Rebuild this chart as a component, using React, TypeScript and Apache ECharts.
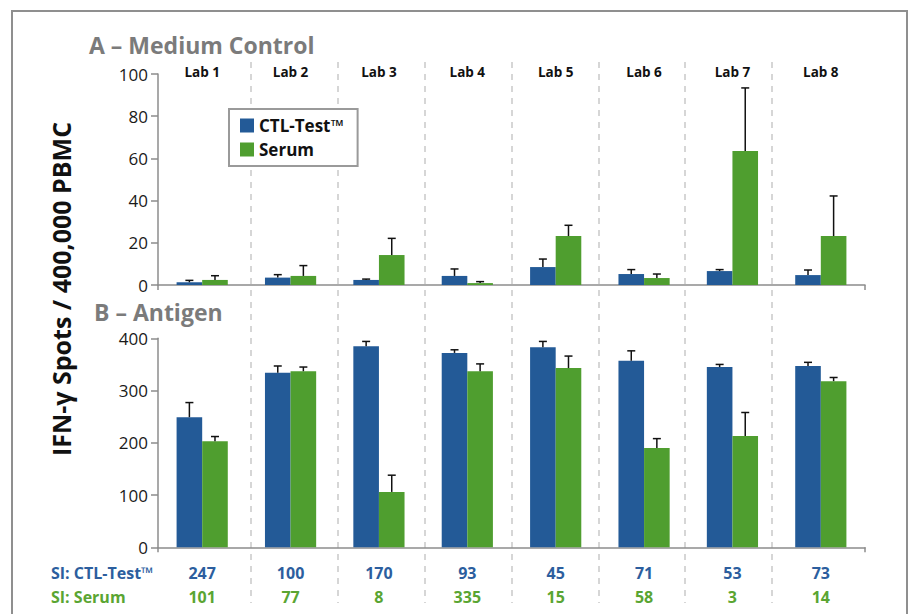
import React, { useEffect, useRef } from "react";
import * as echarts from "echarts";

const labs = ["Lab 1", "Lab 2", "Lab 3", "Lab 4", "Lab 5", "Lab 6", "Lab 7", "Lab 8"];

// A – Medium Control (mean, upper SD)
const ctlMedium = [1.3, 3.5, 2.4, 4.3, 8.5, 5.2, 6.6, 4.7];
const ctlMediumSd = [0.9, 1.4, 0.4, 3.3, 3.8, 2.1, 0.7, 2.4];
const serumMedium = [2.4, 4.3, 14.2, 0.9, 23.2, 3.3, 63.5, 23.2];
const serumMediumSd = [2.0, 4.9, 7.9, 0.7, 5.1, 1.9, 29.9, 19.0];

// B – Antigen (mean, upper SD)
const ctlAntigen = [249, 334, 385, 372, 383, 357, 345, 347];
const ctlAntigenSd = [28, 13, 9, 6, 11, 19, 5, 7];
const serumAntigen = [203, 337, 106, 337, 343, 190, 213, 318];
const serumAntigenSd = [9, 8, 32, 14, 23, 18, 45, 7];

// Stimulation indices
const siCtl = ["247", "100", "170", "93", "45", "71", "53", "73"];
const siSerum = ["101", "77", "8", "335", "15", "58", "3", "14"];

const BLUE = "#235a97";
const GREEN = "#4f9e2f";
const SI_BLUE = "#2c5e9e";
const SI_GREEN = "#5aa532";
const AXIS = "#8c8c8c";
const FONT = "'Open Sans', 'Noto Sans', sans-serif";
const BAR_W = 25.6;

function errRenderer(sign: number) {
  return (params: any, api: any) => {
    const x = api.value(0);
    const v = api.value(1);
    const sd = api.value(2);
    const base = api.coord([x, v]);
    const top = api.coord([x, v + sd]);
    const cx = base[0] + (sign * BAR_W) / 2;
    const st = { stroke: "#111", lineWidth: 1.5 };
    return {
      type: "group",
      children: [
        { type: "line", shape: { x1: cx, y1: base[1], x2: cx, y2: top[1] }, style: st },
        { type: "line", shape: { x1: cx - 4, y1: top[1], x2: cx + 4, y2: top[1] }, style: st },
      ],
    };
  };
}

export default function App() {
  const ref = useRef<HTMLDivElement>(null);
  useEffect(() => {
    if (!ref.current) return;
    const chart = echarts.init(ref.current, undefined, { renderer: "svg" });

    const barSeries = (name: string, data: number[], color: string, idx: number) => ({
      type: "bar",
      name,
      xAxisIndex: idx,
      yAxisIndex: idx,
      data,
      barWidth: BAR_W,
      barGap: "0%",
      itemStyle: { color },
      z: 2,
    });
    const errSeries = (vals: number[], sds: number[], sign: number, idx: number) => ({
      type: "custom",
      xAxisIndex: idx,
      yAxisIndex: idx,
      data: vals.map((v, i) => [i, v, sds[i]]),
      renderItem: errRenderer(sign),
      z: 5,
      silent: true,
    });

    const xBase = (idx: number) => ({
      type: "category",
      gridIndex: idx,
      data: labs,
      axisLine: { show: true, lineStyle: { color: AXIS, width: 1.5 } },
      axisTick: {
        show: true,
        length: 5,
        interval: (i: number) => i === 0,
        lineStyle: { color: AXIS, width: 1.5 },
      },
      splitLine: { show: false },
    });

    const yBase = (idx: number, max: number, interval: number) => ({
      type: "value",
      gridIndex: idx,
      min: 0,
      max,
      interval,
      axisLine: { show: true, lineStyle: { color: AXIS, width: 1.5 } },
      axisTick: { show: true, length: 7, lineStyle: { color: AXIS, width: 1.5 } },
      axisLabel: { color: "#1a1a1a", fontSize: 17, fontFamily: FONT, margin: 10 },
      splitLine: { show: false },
    });

    chart.setOption({
      animation: false,
      textStyle: { fontFamily: FONT },
      grid: [
        { left: 158, width: 707, top: 74, height: 211 },
        { left: 158, width: 707, top: 338.3, height: 209 },
        { left: 164.2, width: 694.7, top: 62, height: 541 },
        { left: 158, width: 707, top: 62, height: 541 },
      ],
      xAxis: [
        { ...xBase(0), axisLabel: { show: false } },
        {
          ...xBase(1),
          axisLabel: {
            show: true,
            margin: 14,
            formatter: (_v: string, i: number) => `{a|${siCtl[i]}}\n{b|${siSerum[i]}}`,
            rich: {
              a: { color: SI_BLUE, fontSize: 16, fontWeight: "bold", lineHeight: 24, fontFamily: FONT },
              b: { color: SI_GREEN, fontSize: 16, fontWeight: "bold", lineHeight: 24, fontFamily: FONT },
            },
          },
        },
        {
          type: "category",
          gridIndex: 2,
          data: labs,
          axisLine: { show: false },
          axisTick: { show: false },
          axisLabel: { show: false },
          splitLine: {
            show: true,
            showMinLine: false,
            showMaxLine: false,
            lineStyle: { color: "#c9c9c9", width: 1.5, type: [6, 6] },
          },
        },
        {
          type: "category",
          gridIndex: 3,
          position: "top",
          data: labs,
          axisLine: { show: false },
          axisTick: { show: false },
          axisLabel: {
            show: true,
            inside: true,
            margin: 3,
            color: "#111",
            fontSize: 13.5,
            fontWeight: "bold",
            fontFamily: FONT,
          },
          splitLine: { show: false },
        },
      ],
      yAxis: [
        yBase(0, 100, 20),
        yBase(1, 400, 100),
        { type: "value", gridIndex: 2, show: false, min: 0, max: 1, splitLine: { show: false } },
        { type: "value", gridIndex: 3, show: false, min: 0, max: 1, splitLine: { show: false } },
      ],
      legend: {
        data: ["CTL-Test™", "Serum"],
        orient: "vertical",
        left: 229,
        top: 109,
        icon: "rect",
        itemWidth: 14,
        itemHeight: 14,
        itemGap: 7,
        padding: [8, 14, 8, 11],
        borderColor: "#9a9a9a",
        borderWidth: 2,
        backgroundColor: "#fff",
        textStyle: { fontSize: 17, fontWeight: "bold", color: "#111", lineHeight: 17, fontFamily: FONT },
        selectedMode: false,
      },
      series: [
        barSeries("CTL-Test™", ctlMedium, BLUE, 0),
        barSeries("Serum", serumMedium, GREEN, 0),
        errSeries(ctlMedium, ctlMediumSd, -1, 0),
        errSeries(serumMedium, serumMediumSd, 1, 0),
        barSeries("CTL-Test™", ctlAntigen, BLUE, 1),
        barSeries("Serum", serumAntigen, GREEN, 1),
        errSeries(ctlAntigen, ctlAntigenSd, -1, 1),
        errSeries(serumAntigen, serumAntigenSd, 1, 1),
      ],
      graphic: [
        {
          type: "rect",
          shape: { x: 12, y: 11, width: 895, height: 640 },
          style: { fill: "none", stroke: "#8f8f8f", lineWidth: 2 },
          z: -10,
        },
        {
          type: "text",
          style: {
            x: 89,
            y: 45,
            text: "A – Medium Control",
            fill: "#7b7b7b",
            fontSize: 23,
            fontWeight: "bold",
            fontFamily: FONT,
            verticalAlign: "middle",
          },
        },
        {
          type: "text",
          style: {
            x: 94,
            y: 311.5,
            text: "B – Antigen",
            fill: "#7b7b7b",
            fontSize: 23,
            fontWeight: "bold",
            fontFamily: FONT,
            verticalAlign: "middle",
          },
        },
        {
          type: "text",
          x: 61,
          y: 289,
          rotation: Math.PI / 2,
          style: {
            x: 0,
            y: 0,
            text: "IFN-γ Spots / 400,000 PBMC",
            fill: "#111",
            fontSize: 25,
            fontWeight: "bold",
            fontFamily: FONT,
            align: "center",
            verticalAlign: "middle",
          },
        },
        {
          type: "text",
          style: {
            x: 51,
            y: 573,
            text: "SI: CTL-Test™",
            fill: SI_BLUE,
            fontSize: 16,
            fontWeight: "bold",
            fontFamily: FONT,
            verticalAlign: "middle",
          },
        },
        {
          type: "text",
          style: {
            x: 51,
            y: 597,
            text: "SI: Serum",
            fill: SI_GREEN,
            fontSize: 16,
            fontWeight: "bold",
            fontFamily: FONT,
            verticalAlign: "middle",
          },
        },
      ],
    });
    return () => chart.dispose();
  }, []);
  return (
    <div
      ref={ref}
      style={{ position: "absolute", left: 0, top: 0, width: 909, height: 614 }}
    />
  );
}
